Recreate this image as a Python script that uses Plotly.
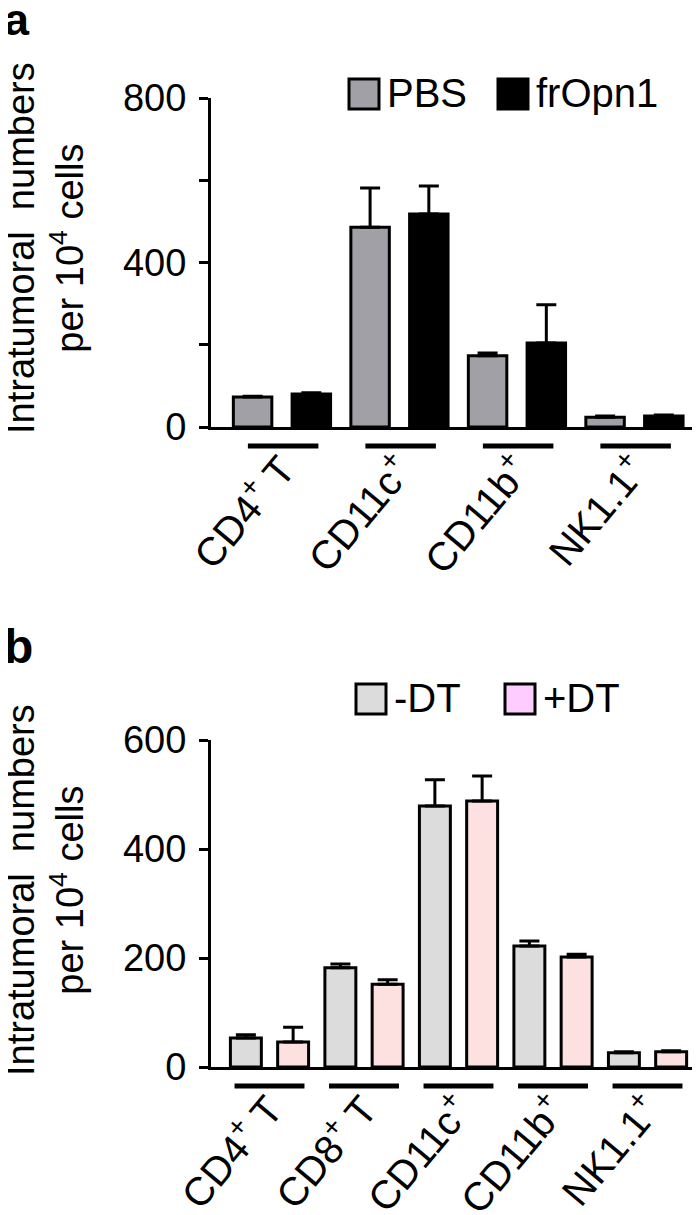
import plotly.graph_objects as go

W, H = 700, 1215
FONT = "Liberation Sans, Arial, sans-serif"

# ---------------- data ----------------
cats_a = ["CD4<sup>+</sup> T", "CD11c<sup>+</sup>", "CD11b<sup>+</sup>", "NK1.1<sup>+</sup>"]
pbs = [73, 486, 173, 24]
pbs_err = [2, 95, 7, 3]
fropn1 = [80, 518, 204, 27]
fropn1_err = [3, 68, 93, 2]

cats_b = ["CD4<sup>+</sup> T", "CD8<sup>+</sup> T", "CD11c<sup>+</sup>", "CD11b<sup>+</sup>", "NK1.1<sup>+</sup>"]
minus_dt = [53, 182, 479, 222, 26]
minus_dt_err = [6, 7, 48, 9, 2]
plus_dt = [46, 152, 488, 202, 28]
plus_dt_err = [27, 8, 46, 5, 2]

yticks_a = [0, 200, 400, 600, 800]
yticklabels_a = ["0", "", "400", "", "800"]
yticks_b = [0, 200, 400, 600]
yticklabels_b = ["0", "200", "400", "600"]

ytitle = "Intratumoral\u00a0 numbers<br>per 10<sup>4</sup> cells"

# colours
C_PBS = "#a0a0a6"
C_FR = "#000000"
C_MDT = "#dcdcdc"
C_PDT = "#fde0e0"
C_PDT_LEG = "#ffccff"


def X(px):
    return px / W


def Y(py):
    return 1 - py / H


fig = go.Figure()


def bar(x, y, err, color, xa, ya, name):
    return go.Bar(
        x=x, y=y, name=name, xaxis=xa, yaxis=ya, showlegend=False,
        marker=dict(color=color, line=dict(color="black", width=3)),
        error_y=dict(type="data", array=err, arrayminus=[0] * len(err), symmetric=False,
                     color="black", thickness=3, width=10),
    )


fig.add_trace(bar(cats_a, pbs, pbs_err, C_PBS, "x", "y", "PBS"))
fig.add_trace(bar(cats_a, fropn1, fropn1_err, C_FR, "x", "y", "frOpn1"))
fig.add_trace(bar(cats_b, minus_dt, minus_dt_err, C_MDT, "x2", "y2", "-DT"))
fig.add_trace(bar(cats_b, plus_dt, plus_dt_err, C_PDT, "x2", "y2", "+DT"))

axis_common = dict(showline=True, linecolor="black", linewidth=3, showgrid=False, zeroline=False)

xcommon = dict(axis_common, ticks="", tickangle=-50, type="category", ticklabelstandoff=0,
               tickfont=dict(family=FONT, size=40, color="black"))
ycommon = dict(axis_common, ticks="outside", ticklen=9, tickwidth=3, tickcolor="black",
               ticklabelstandoff=5, tickfont=dict(family=FONT, size=38, color="black"))

fig.update_layout(
    width=W, height=H,
    margin=dict(l=0, r=0, t=0, b=0, autoexpand=False),
    paper_bgcolor="white", plot_bgcolor="white",
    barmode="group", bargap=0.0, bargroupgap=0.345,
    xaxis=dict(xcommon, domain=[X(203), 1.0], range=[-0.604, 3.626], anchor="y"),
    yaxis=dict(ycommon, domain=[Y(419), Y(90)], range=[0, 800], tickvals=yticks_a,
               ticktext=yticklabels_a, anchor="x"),
    xaxis2=dict(xcommon, domain=[X(203), 1.0], range=[-0.619, 4.640], anchor="y2"),
    yaxis2=dict(ycommon, domain=[Y(1059), Y(732)], range=[0, 600], tickvals=yticks_b,
                ticktext=yticklabels_b, anchor="x2"),
    font=dict(family=FONT, color="black"),
)

shapes = []
annotations = []

# underlines beneath the category groups
for i in range(len(cats_a)):
    shapes.append(dict(type="line", xref="x", yref="y domain", x0=i - 0.29, x1=i + 0.31,
                       y0=-0.058, y1=-0.058, line=dict(color="black", width=5)))
for i in range(len(cats_b)):
    shapes.append(dict(type="line", xref="x2", yref="y2 domain", x0=i - 0.37, x1=i + 0.37,
                       y0=-0.058, y1=-0.058, line=dict(color="black", width=5)))

# manual legends
def legend_item(x0, y0, size, fill, label):
    shapes.append(dict(type="rect", xref="paper", yref="paper",
                       x0=X(x0), x1=X(x0 + size), y0=Y(y0 + size), y1=Y(y0),
                       fillcolor=fill, line=dict(color="black", width=3)))
    annotations.append(dict(text=label, xref="paper", yref="paper", x=X(x0 + size + 6),
                            y=Y(y0 + size / 2 - 1), xanchor="left", yanchor="middle", showarrow=False,
                            font=dict(family=FONT, size=40, color="black")))

legend_item(341, 71, 30, C_PBS, "PBS")
legend_item(490, 71, 30, C_FR, "frOpn1")
legend_item(348, 676, 30, C_MDT, "-DT")
legend_item(497, 676, 30, C_PDT_LEG, "+DT")

# y-axis titles
for yc in (240, 882):
    annotations.append(dict(text=ytitle, xref="paper", yref="paper", x=X(37), y=Y(yc),
                            xanchor="center", yanchor="middle", textangle=-90, showarrow=False,
                            align="center", font=dict(family=FONT, size=38, color="black")))

# panel letters
annotations.append(dict(text="<b>a</b>", xref="paper", yref="paper", x=X(-5), y=Y(11),
                        xanchor="left", yanchor="middle", showarrow=False, borderpad=0,
                        font=dict(family=FONT, size=45, color="black")))
annotations.append(dict(text="<b>b</b>", xref="paper", yref="paper", x=X(-5), y=Y(638),
                        xanchor="left", yanchor="middle", showarrow=False, borderpad=0,
                        font=dict(family=FONT, size=48, color="black")))

fig.update_layout(shapes=shapes, annotations=annotations)

fig.write_html("out.html")
